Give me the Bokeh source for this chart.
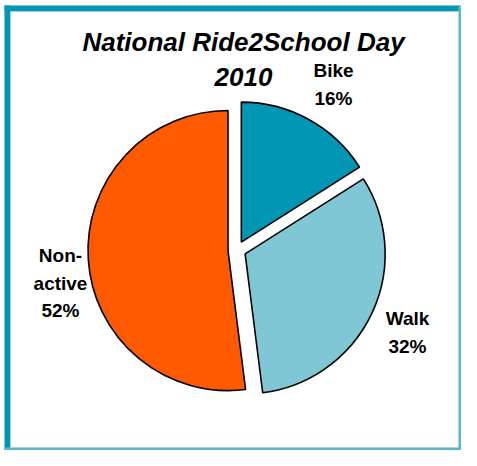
import math
from bokeh.plotting import figure
from bokeh.models import Range1d, ColumnDataSource
from bokeh.core.properties import value
from bokeh.embed import file_html
from bokeh.resources import INLINE

# ---- data ----
categories = ["Bike", "Walk", "Non-active"]
percents = [16, 32, 52]
label_lines = [["Bike", "16%"], ["Walk", "32%"], ["Non-", "active", "52%"]]
colors = ["#0096B4", "#80C7D5", "#FF5A00"]
title_lines = ["National Ride2School Day", "2010"]

# ---- layout (pixel coordinates of the picture) ----
W, H = 461, 450
cx, cy, R, explode = 236.5, 249.5, 140, 9
label_pos = [(333, 70), (407, 318), (60, 255)]   # x centre, baseline of first line
line_gap = 27.5
title_pos = [(243, 41), (243, 76)]

p = figure(width=W, height=H, x_range=Range1d(0, W), y_range=Range1d(-H, 0),
           output_backend="svg", toolbar_location=None, min_border=0,
           x_axis_type=None, y_axis_type=None)
p.grid.visible = False
p.outline_line_color = None
p.background_fill_color = "white"
p.border_fill_color = "white"

# frame
fl, ft, fr, fb = 4, 5, W, H
p.quad(left=[fl], right=[fl + 6], top=[-ft], bottom=[-fb], fill_color="#0096B4", line_color=None)
p.quad(left=[fl], right=[fr], top=[-ft], bottom=[-(ft + 6)], fill_color="#0096B4", line_color=None)
p.quad(left=[fr - 3], right=[fr], top=[-ft], bottom=[-fb], fill_color="#5CB9CC", line_color=None)
p.quad(left=[fl], right=[fr], top=[-(fb - 3)], bottom=[-fb], fill_color="#5CB9CC", line_color=None)
p.quad(left=[fl + 6], right=[fr - 3], top=[-(ft + 6)], bottom=[-(fb - 3)], fill_color=None,
       line_color="#9FD6E2", line_width=1)

# wedges
total = sum(percents)
xs, ys, starts, ends = [], [], [], []
cum = 0
for v in percents:
    end = math.pi / 2 - 2 * math.pi * cum / total
    cum += v
    start = math.pi / 2 - 2 * math.pi * cum / total
    mid = (start + end) / 2
    xs.append(cx + explode * math.cos(mid))
    ys.append(-cy + explode * math.sin(mid))
    starts.append(start)
    ends.append(end)

src = ColumnDataSource(dict(x=xs, y=ys, start=starts, end=ends, color=colors, cat=categories))
p.wedge(x="x", y="y", radius=R, start_angle="start", end_angle="end", fill_color="color",
        line_color="black", line_width=1.6, source=src)

# slice labels
tx, ty, tt = [], [], []
for (lx, ly), lines in zip(label_pos, label_lines):
    for i, t in enumerate(lines):
        tx.append(lx)
        ty.append(-(ly + i * line_gap))
        tt.append(t)
p.text(x=tx, y=ty, text=tt, text_align="center", text_baseline="alphabetic",
       text_font=value("Liberation Sans"), text_font_style="bold", text_font_size="19px",
       text_color="black")

# title
p.text(x=[t[0] for t in title_pos], y=[-t[1] for t in title_pos], text=title_lines,
       text_align="center", text_baseline="alphabetic", text_font=value("Liberation Sans"),
       text_font_style="bold italic", text_font_size="26px", text_color="black")

open("out.html", "w").write(file_html(p, INLINE))
